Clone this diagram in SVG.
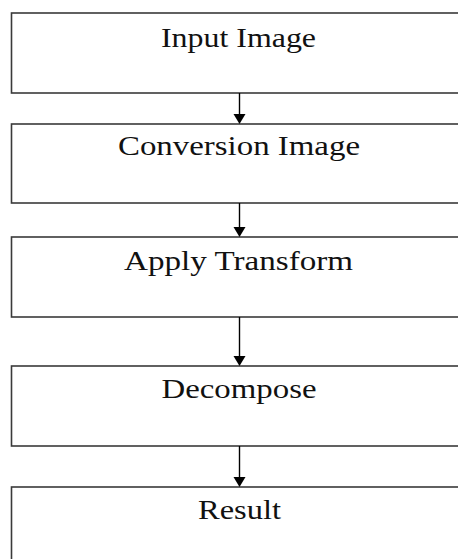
<svg xmlns="http://www.w3.org/2000/svg" width="458" height="559" viewBox="0 0 458 559">
<defs>
<style>
.box{fill:#fff;stroke:#3a3a3a;stroke-width:1.6}
.lbl{font-family:"Liberation Serif","Times New Roman",serif;font-size:28px;fill:#111;text-anchor:middle}
.edge{stroke:#000;stroke-width:1.4;fill:none}
.head{fill:#000}
</style>
</defs>
<rect width="458" height="559" fill="#fff"/>
<g id="n1"><rect class="box" x="11.5" y="13" width="470" height="80"/><text class="lbl" x="238.5" y="46.5" textLength="155" lengthAdjust="spacingAndGlyphs">Input Image</text></g>
<g id="n2"><rect class="box" x="11.5" y="124" width="470" height="79"/><text class="lbl" x="239" y="155" textLength="242" lengthAdjust="spacingAndGlyphs">Conversion Image</text></g>
<g id="n3"><rect class="box" x="11.5" y="237" width="470" height="80"/><text class="lbl" x="238.5" y="270" textLength="229" lengthAdjust="spacingAndGlyphs">Apply Transform</text></g>
<g id="n4"><rect class="box" x="11.5" y="366" width="470" height="80"/><text class="lbl" x="239" y="398" textLength="155" lengthAdjust="spacingAndGlyphs">Decompose</text></g>
<g id="n5"><rect class="box" x="11.5" y="487" width="470" height="100"/><text class="lbl" x="239.5" y="518.5" textLength="83" lengthAdjust="spacingAndGlyphs">Result</text></g>
<g id="edges">
<line class="edge" x1="239.5" y1="93" x2="239.5" y2="115"/><polygon class="head" points="233.5,114 245.5,114 239.5,124"/>
<line class="edge" x1="239.5" y1="203" x2="239.5" y2="228"/><polygon class="head" points="233.5,227 245.5,227 239.5,237"/>
<line class="edge" x1="239.5" y1="317" x2="239.5" y2="357"/><polygon class="head" points="233.5,356 245.5,356 239.5,366"/>
<line class="edge" x1="239.5" y1="446" x2="239.5" y2="478"/><polygon class="head" points="233.5,477 245.5,477 239.5,487"/>
</g>
</svg>
